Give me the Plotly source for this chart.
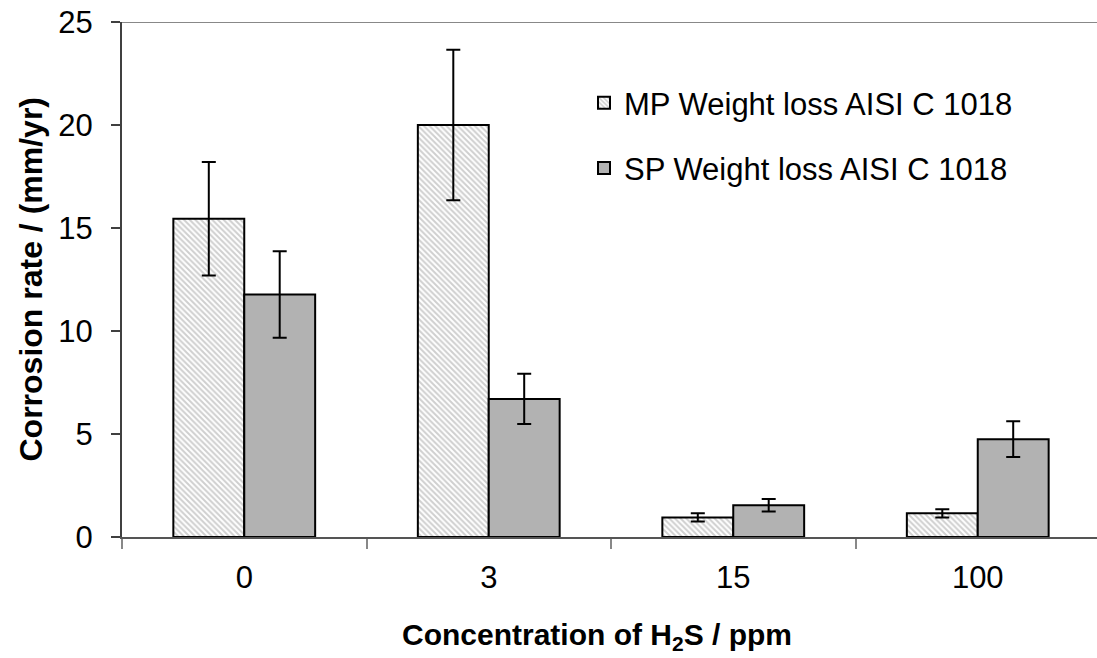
import plotly.graph_objects as go

# H2S concentrations (ppm) used as categories
concentrations = ["0", "3", "15", "100"]

# Corrosion rates (mm/yr) from weight loss, AISI C 1018
mp_rate = [15.45, 20.0, 0.95, 1.15]
mp_err = [2.75, 3.65, 0.2, 0.2]
sp_rate = [11.77, 6.7, 1.54, 4.75]
sp_err = [2.1, 1.22, 0.3, 0.87]

FONT = "Liberation Sans, Arial, sans-serif"
FS = 31

W, H = 1097, 658
L, T, B = 122, 22, 121
plot_w = W - L
plot_h = H - T - B

fig = go.Figure()

fig.add_trace(go.Bar(
    x=concentrations, y=mp_rate, name="MP Weight loss AISI C 1018",
    legendgroup="mp",
    marker=dict(color="white",
                pattern=dict(shape="\\", fgcolor="#a0a0a0", bgcolor="white",
                             size=4, solidity=0.5),
                line=dict(color="black", width=2)),
    error_y=dict(type="data", array=mp_err, color="black", thickness=2, width=7),
))
fig.add_trace(go.Bar(
    x=concentrations, y=sp_rate, name="SP Weight loss AISI C 1018",
    legendgroup="sp",
    marker=dict(color="#b2b2b2", line=dict(color="black", width=2)),
    error_y=dict(type="data", array=sp_err, color="black", thickness=2, width=7),
))

# gray frame line along the top of the plotting area
fig.add_shape(type="line", xref="paper", yref="y", x0=0, x1=1, y0=25, y1=25,
              line=dict(color="#888888", width=2), layer="above")

fig.add_annotation(text="<b>Concentration of H<sub>2</sub>S / ppm</b>",
                   xref="paper", yref="paper", x=(597 - L) / plot_w,
                   y=(537 - 636) / plot_h, yanchor="middle", showarrow=False,
                   font=dict(family=FONT, size=30, color="black"))
fig.add_annotation(text="<b>Corrosion rate / (mm/yr)</b>",
                   xref="paper", yref="paper", x=(30 - L) / plot_w,
                   y=0.5, textangle=-90, showarrow=False,
                   xanchor="center", yanchor="middle",
                   font=dict(family=FONT, size=32, color="black"))

n_units = plot_w / 244.5
fig.update_layout(
    width=W, height=H,
    margin=dict(l=L, r=0, t=T, b=B, pad=0),
    paper_bgcolor="white", plot_bgcolor="white",
    barmode="group", bargap=0.42, bargroupgap=0,
    font=dict(family=FONT, size=FS, color="black"),
    showlegend=True,
    legend=dict(x=(584 - L) / plot_w, y=(537 - 76) / plot_h,
                xanchor="left", yanchor="top",
                bgcolor="rgba(0,0,0,0)", tracegroupgap=22,
                traceorder="grouped", itemwidth=30,
                font=dict(family=FONT, size=FS, color="black")),
    xaxis=dict(type="category", range=[-0.5, -0.5 + n_units],
               showline=True, linecolor="#555555", linewidth=2,
               ticks="outside", tickson="boundaries", ticklen=10,
               tickwidth=1.5, tickcolor="#888888", showgrid=False,
               ticklabelstandoff=12,
               tickfont=dict(family=FONT, size=FS, color="black")),
    yaxis=dict(range=[0, 25], dtick=5, showline=True, linecolor="#404040",
               linewidth=2, ticks="outside", ticklen=9, tickwidth=2,
               tickcolor="#404040", showgrid=False, zeroline=False,
               ticklabelstandoff=12,
               tickfont=dict(family=FONT, size=FS, color="black")),
)

fig.write_html("out.html")
